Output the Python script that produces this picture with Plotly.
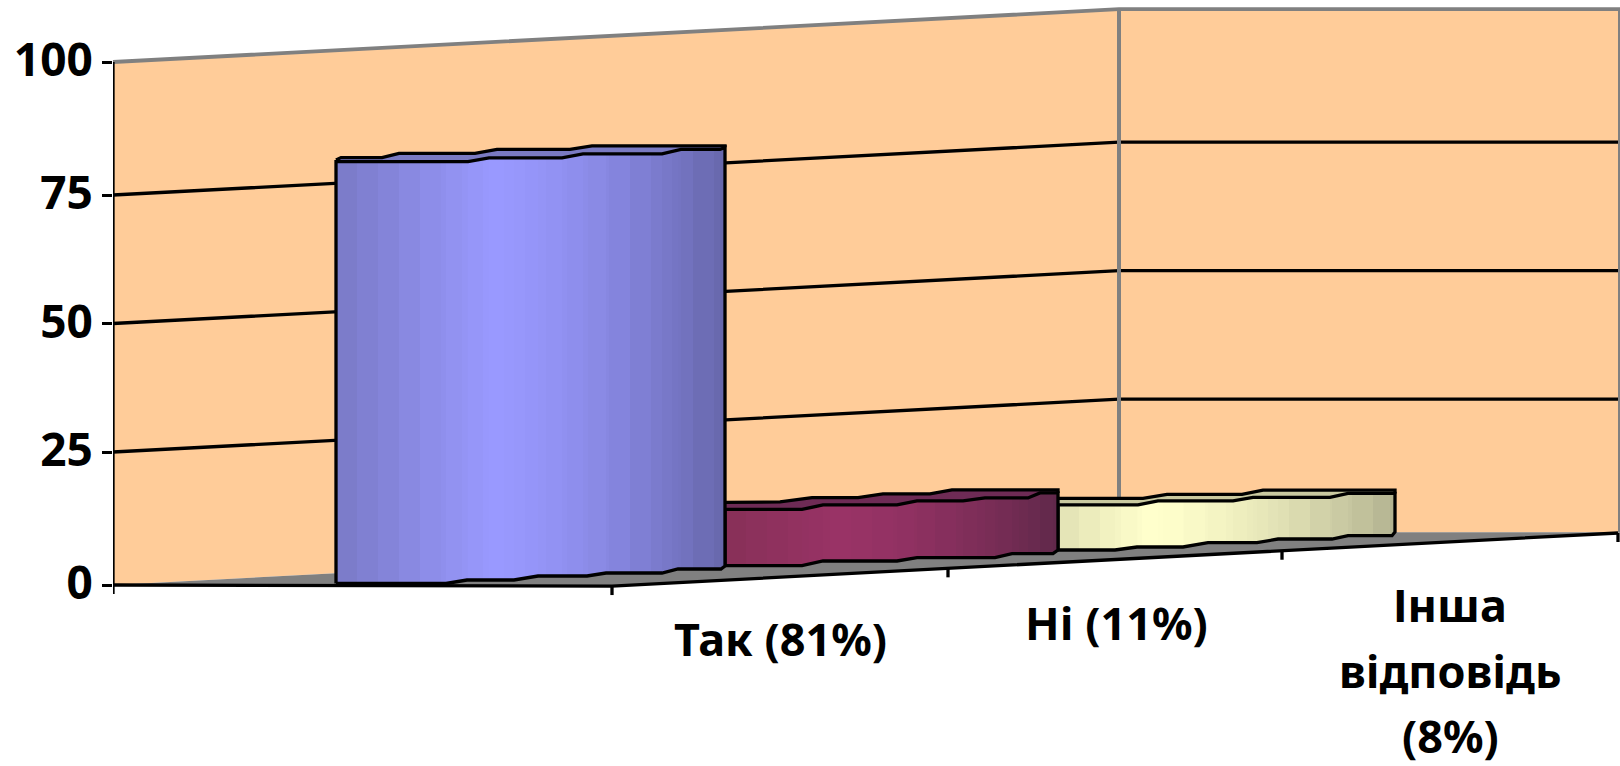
import numpy as np
import plotly.graph_objects as go

# ---- data
categories = ["Так (81%)", "Ні (11%)", "Інша відповідь (8%)"]
values = [81, 11, 8]
y_ticks = [0, 25, 50, 75, 100]
label_lines = [["Так (81%)"], ["Ні (11%)"], ["Інша", "відповідь", "(8%)"]]

# ---- scene geometry (x axis is in scene units, y axis in value units)
W, H = 1620, 766
Y0_PX, PX_PER_UNIT = 585.0, 5.23
X_LEFT, X_CORNER, X_RIGHT = 113, 1119, 1620
WALL_RISE = 10.1
FRONT_START = 612
CAT_TICKS = [612, 948, 1282, 1618]
LABEL_X = [780, 1116, 1450]
LABEL_DROP = [[61], [63], [63, 129, 194]]
GRID_NUDGE = [0, 0.43, 0, -0.43, 0]   # the source image's grid is not perfectly even
BLACK_W = 3.3

def px(d):
    return d / PX_PER_UNIT

def front(x):
    return float(np.interp(x, [X_LEFT, FRONT_START, CAT_TICKS[-1]], [0, -0.2, 9.94]))

bars = [
    dict(x0=336, x1=725, peak=0.40, left="#7a7ac6", mid="#9999ff", right="#6666aa", topc="#7a7ac2",
         bx=[336, 446, 467, 514, 538, 587, 606, 662, 678, 721, 725],
         bl=[1.5, 1.5, 5, 5, 9, 9, 12, 12, 16, 16, 19],
         tx=[336, 468, 489, 562, 583, 662, 681, 720, 725],
         tl=[-0.2, -0.2, 3.4, 3.4, 7.4, 7.4, 11.9, 11.9, 14],
         ux=[336, 341, 382, 399, 475, 497, 570, 592, 725],
         ul=[1.4, 3.8, 3.8, 7.9, 7.9, 11.9, 11.9, 15.4, 15.4]),
    dict(x0=725, x1=1058, peak=0.35, left="#873058", mid="#993366", right="#60284a", topc="#6e2b55",
         bx=[725, 802, 823, 897, 917, 995, 1012, 1053, 1058],
         bl=[19.3, 19.3, 24, 24, 27.3, 27.3, 31.3, 31.3, 35],
         tx=[725, 802, 823, 897, 917, 963, 985, 1028, 1040, 1058],
         tl=[18, 18, 22.5, 22.5, 26.5, 26.5, 29.5, 29.5, 34.5, 34.5],
         ux=[725, 780, 812, 858, 883, 930, 952, 1058],
         ul=[25, 25.5, 29.8, 29.8, 33.5, 33.5, 37.5, 37.5]),
    dict(x0=1058, x1=1395, peak=0.27, left="#e2e2b4", mid="#ffffcc", right="#b2b290", topc="#c9c9a0",
         bx=[1058, 1115, 1137, 1183, 1208, 1257, 1278, 1332, 1348, 1392, 1395],
         bl=[35, 35, 38, 38, 42.3, 42.3, 46, 46, 49.3, 49.3, 53],
         tx=[1058, 1138, 1158, 1233, 1253, 1330, 1348, 1390, 1395],
         tl=[38.2, 38.2, 42.2, 42.2, 45.7, 45.7, 49.7, 49.7, 49.7],
         ux=[1058, 1143, 1167, 1242, 1263, 1395],
         ul=[44.7, 44.7, 48.7, 48.7, 53, 53]),
]

def hex2rgb(h):
    return np.array([int(h[i:i + 2], 16) for i in (1, 3, 5)], float)

def shade(b, x):
    f = (x - b["x0"]) / (b["x1"] - b["x0"])
    l, m, r = hex2rgb(b["left"]), hex2rgb(b["mid"]), hex2rgb(b["right"])
    if f < b["peak"]:
        c = l + (m - l) * f / b["peak"]
    else:
        c = m + (r - m) * ((f - b["peak"]) / (1 - b["peak"])) ** 1.5
    return "rgb(%d,%d,%d)" % tuple(c.round())

fig = go.Figure()

def poly(xs, ys, color):
    fig.add_trace(go.Scatter(x=xs, y=ys, mode="lines", fill="toself", fillcolor=color,
                             line=dict(width=0), hoverinfo="skip", showlegend=False, cliponaxis=False))

def line(xs, ys, color="#000000", width=BLACK_W):
    fig.add_trace(go.Scatter(x=xs, y=ys, mode="lines", line=dict(color=color, width=width),
                             hoverinfo="skip", showlegend=False, cliponaxis=False))

# walls
top = y_ticks[-1]
poly([X_LEFT, X_LEFT, X_CORNER, X_RIGHT, X_RIGHT, X_CORNER],
     [0, top, top + WALL_RISE, top + WALL_RISE, WALL_RISE, WALL_RISE], "#FFCC99")
# floor
poly([X_LEFT, X_CORNER, X_RIGHT, X_RIGHT, FRONT_START],
     [0, WALL_RISE, WALL_RISE, front(X_RIGHT), front(FRONT_START)], "#808080")
# grid lines
tick_pos = [t + n for t, n in zip(y_ticks, GRID_NUDGE)]
for v in tick_pos[1:-1]:
    line([X_LEFT, X_CORNER, X_RIGHT], [v, v + WALL_RISE, v + WALL_RISE])
# wall borders
line([X_LEFT, X_CORNER, X_RIGHT], [top, top + WALL_RISE, top + WALL_RISE], "#808080", 3.8)
line([X_CORNER, X_CORNER], [WALL_RISE, top + WALL_RISE], "#808080", 4)
line([X_RIGHT - 1, X_RIGHT - 1], [WALL_RISE, top + WALL_RISE], "#808080", 2)
# category axis
line([X_LEFT, FRONT_START, CAT_TICKS[-1]], [0, front(FRONT_START), front(CAT_TICKS[-1])])
for t in CAT_TICKS:
    line([t, t], [front(t), front(t) - px(9)])
# value axis line
line([X_LEFT, X_LEFT], [-px(9), top])

# bars: painted back to front
for b, v in reversed(list(zip(bars, values))):
    bx, bl = np.array(b["bx"], float), px(np.array(b["bl"], float))
    tx, tl = np.array(b["tx"], float), px(np.array(b["tl"], float))
    ux, ul = np.array(b["ux"], float), px(np.array(b["ul"], float))
    # top face
    poly(list(tx) + list(ux[::-1]), list(v + tl) + list((v + ul)[::-1]), b["topc"])
    # front face, banded
    knots = sorted(set(np.arange(b["x0"], b["x1"], 21.0).tolist()) | set(b["bx"]) | set(b["tx"]) | {b["x1"]})
    for a, c in zip(knots[:-1], knots[1:]):
        xx = [a, c + 0.6, c + 0.6, a]
        yy = [np.interp(a, bx, bl), np.interp(c, bx, bl),
              v + np.interp(c, tx, tl), v + np.interp(a, tx, tl)]
        poly(xx, [float(q) for q in yy], shade(b, (a + c) / 2))
    # outlines
    line(list(bx) + list(tx[::-1]) + [bx[0]],
         list(bl) + list((v + tl)[::-1]) + [bl[0]])
    line(list(ux) + [b["x1"]], list(v + ul) + [v + tl[-1]])

# category labels
FONT = "Noto Sans"
for lx, drops, lines in zip(LABEL_X, LABEL_DROP, label_lines):
    for d, s in zip(drops, lines):
        fig.add_annotation(x=lx, y=front(lx) - px(d), xref="x", yref="y", text="<b>%s</b>" % s,
                           showarrow=False, xanchor="center", yanchor="middle",
                           font=dict(family=FONT, size=45, color="#000000"))

fig.update_layout(
    width=W, height=H, margin=dict(l=X_LEFT, r=0, t=0, b=0), autosize=False,
    plot_bgcolor="#ffffff", paper_bgcolor="#ffffff", showlegend=False,
    xaxis=dict(range=[X_LEFT, W], visible=False, fixedrange=True),
    yaxis=dict(range=[(Y0_PX - H) / PX_PER_UNIT, Y0_PX / PX_PER_UNIT],
               tickmode="array", tickvals=tick_pos, ticktext=[str(t) for t in y_ticks],
               ticks="outside", ticklen=10, tickwidth=BLACK_W, tickcolor="#000000",
               showgrid=False, zeroline=False, showline=False, fixedrange=True,
               ticklabelstandoff=0, ticklabelshift=-2,
               tickfont=dict(family=FONT, size=46, color="#000000", weight="bold")),
)
fig.write_html("out.html", config=dict(displayModeBar=False),
               post_script="document.body.style.margin='0';document.body.style.overflow='hidden';")
